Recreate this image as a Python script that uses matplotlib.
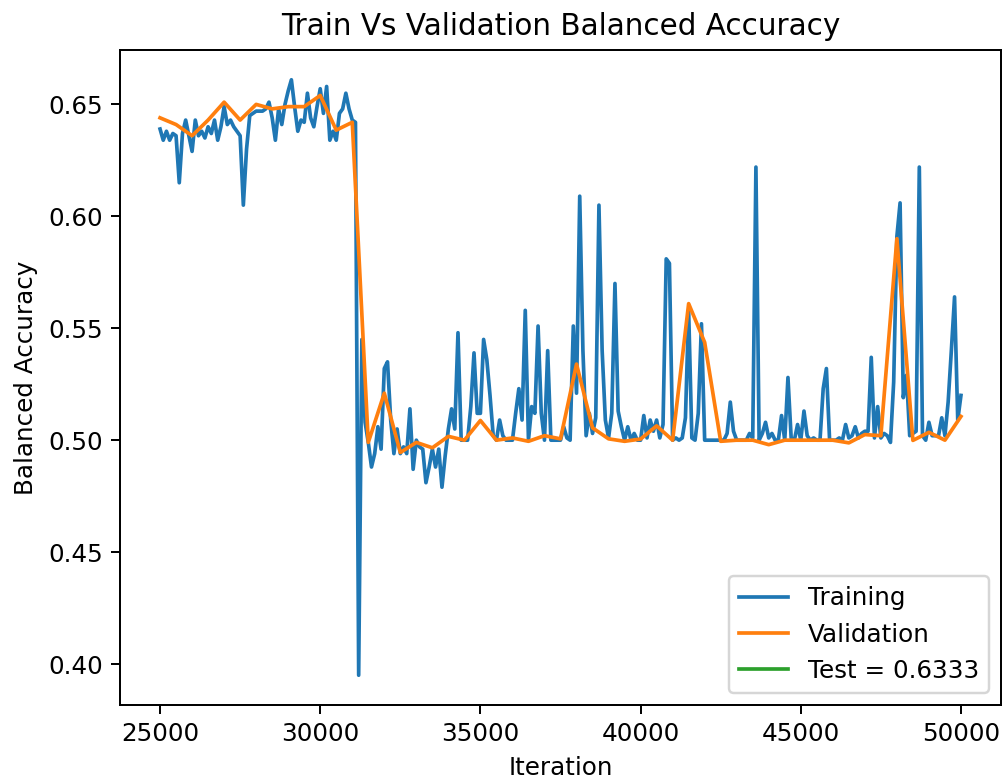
import numpy as np
import matplotlib
matplotlib.use("Agg")
import matplotlib.pyplot as plt

# Training balanced accuracy, logged every 100 iterations from 25000 to 50000
train_start, train_step = 25000, 100
train_acc = [
    0.639, 0.634, 0.638, 0.634, 0.637, 0.636, 0.615, 0.637, 0.643, 0.636,
    0.629, 0.643, 0.636, 0.638, 0.635, 0.640, 0.637, 0.643, 0.634, 0.640,
    0.649, 0.641, 0.643, 0.640, 0.638, 0.636, 0.605, 0.630, 0.645, 0.646,
    0.647, 0.647, 0.647, 0.648, 0.651, 0.644, 0.634, 0.648, 0.641, 0.650,
    0.656, 0.661, 0.649, 0.638, 0.643, 0.642, 0.655, 0.644, 0.640, 0.649,
    0.657, 0.646, 0.658, 0.634, 0.638, 0.634, 0.646, 0.648, 0.655, 0.648,
    0.643, 0.642, 0.395, 0.545, 0.508, 0.499, 0.488, 0.494, 0.506, 0.496,
    0.532, 0.535, 0.509, 0.494, 0.505, 0.494, 0.497, 0.494, 0.514, 0.487,
    0.500, 0.497, 0.496, 0.481, 0.488, 0.496, 0.488, 0.496, 0.479, 0.493,
    0.505, 0.514, 0.505, 0.548, 0.500, 0.500, 0.500, 0.515, 0.539, 0.512,
    0.512, 0.545, 0.536, 0.520, 0.502, 0.500, 0.509, 0.502, 0.500, 0.500,
    0.500, 0.512, 0.523, 0.509, 0.558, 0.500, 0.515, 0.512, 0.551, 0.512,
    0.500, 0.540, 0.500, 0.500, 0.500, 0.500, 0.506, 0.501, 0.500, 0.551,
    0.521, 0.609, 0.540, 0.502, 0.512, 0.503, 0.510, 0.605, 0.540, 0.509,
    0.501, 0.512, 0.570, 0.513, 0.506, 0.500, 0.506, 0.500, 0.503, 0.500,
    0.500, 0.511, 0.501, 0.509, 0.504, 0.509, 0.501, 0.507, 0.581, 0.579,
    0.500, 0.501, 0.500, 0.501, 0.510, 0.558, 0.501, 0.500, 0.512, 0.552,
    0.500, 0.500, 0.500, 0.500, 0.500, 0.500, 0.500, 0.503, 0.517, 0.504,
    0.500, 0.500, 0.500, 0.500, 0.503, 0.501, 0.622, 0.500, 0.503, 0.508,
    0.501, 0.503, 0.500, 0.500, 0.511, 0.500, 0.528, 0.501, 0.500, 0.507,
    0.500, 0.513, 0.502, 0.500, 0.501, 0.500, 0.500, 0.523, 0.532, 0.500,
    0.500, 0.500, 0.501, 0.500, 0.507, 0.501, 0.502, 0.506, 0.501, 0.503,
    0.504, 0.504, 0.537, 0.501, 0.515, 0.501, 0.503, 0.502, 0.499, 0.526,
    0.591, 0.606, 0.519, 0.529, 0.502, 0.503, 0.504, 0.622, 0.502, 0.500,
    0.508, 0.502, 0.502, 0.502, 0.510, 0.502, 0.517, 0.540, 0.564, 0.509,
    0.520,
]

# Validation balanced accuracy, evaluated every 500 iterations
val_start, val_step = 25000, 500
val_acc = [
    0.644, 0.641, 0.636, 0.643, 0.651, 0.643, 0.650, 0.648, 0.649, 0.649,
    0.654, 0.6385, 0.642, 0.499, 0.521, 0.4945, 0.499, 0.4966, 0.5017, 0.500,
    0.5088, 0.500, 0.501, 0.4995, 0.502, 0.5006, 0.534, 0.5055, 0.5006, 0.4995,
    0.5005, 0.5064, 0.500, 0.561, 0.5437, 0.4995, 0.500, 0.500, 0.498, 0.500,
    0.500, 0.500, 0.500, 0.4988, 0.5025, 0.502, 0.590, 0.4999, 0.5035, 0.500,
    0.5106,
]

test_score = 0.6333

train_iter = train_start + train_step * np.arange(len(train_acc))
val_iter = val_start + val_step * np.arange(len(val_acc))

DPI = 177
fig = plt.figure(figsize=(1002 / DPI, 782 / DPI), dpi=DPI)
ax = fig.add_axes([120 / 1002, 77 / 782, 881 / 1002, 655 / 782])

ax.plot(train_iter, train_acc, color="#1f77b4", linewidth=1.5, label="Training")
ax.plot(val_iter, val_acc, color="#ff7f0e", linewidth=1.5, label="Validation")
ax.plot([train_iter[-1]], [test_score], color="#2ca02c", linewidth=1.5,
        label=f"Test = {test_score:.4f}")

ax.set_title("Train Vs Validation Balanced Accuracy", fontsize=12)
ax.set_xlabel("Iteration", fontsize=10)
ax.set_ylabel("Balanced Accuracy", fontsize=10)
ax.set_xticks([25000, 30000, 35000, 40000, 45000, 50000])
ax.set_yticks([0.40, 0.45, 0.50, 0.55, 0.60, 0.65])
ax.tick_params(labelsize=10)
ax.legend(loc="lower right", fontsize=10)

fig.savefig("out.png", dpi=DPI)
